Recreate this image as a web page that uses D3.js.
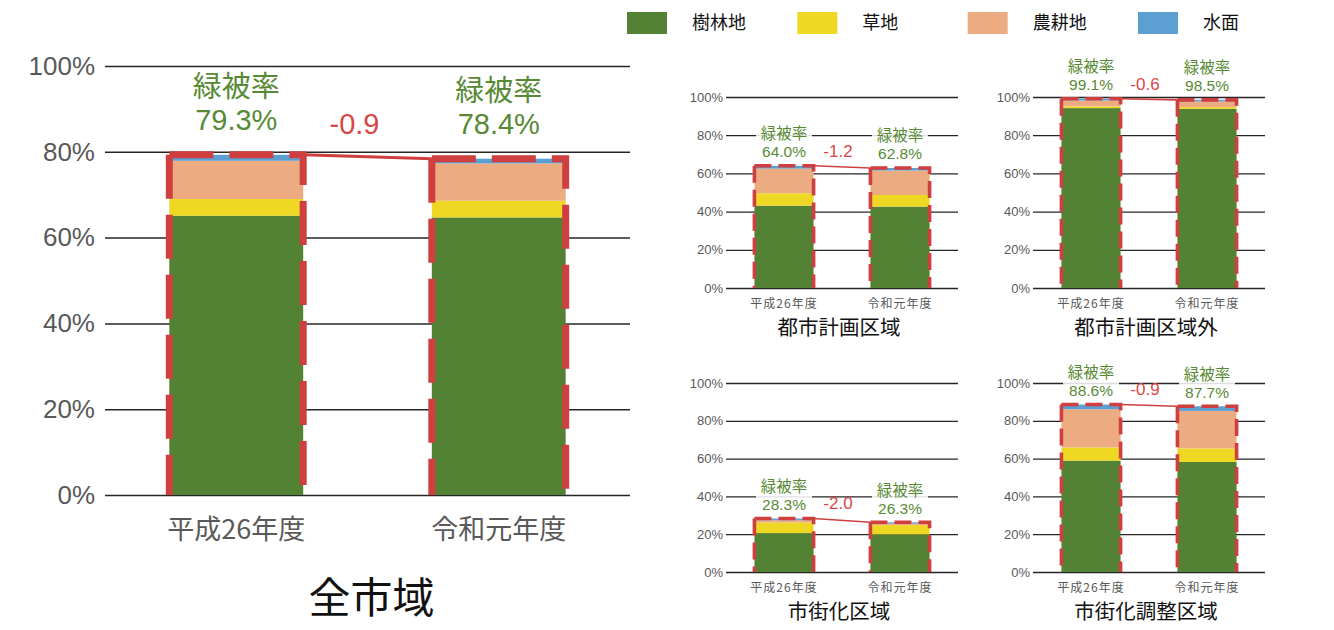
<!DOCTYPE html>
<html lang="ja">
<head>
<meta charset="utf-8" />
<title>緑被率の推移</title>
<style>
html, body {
  margin: 0;
  padding: 0;
  background: #fff;
}
svg text {
  font-family: "Liberation Sans", Arial, "Noto Sans CJK JP", sans-serif;
}
.jp {
  font-family: "Noto Sans CJK JP", sans-serif;
}
</style>
</head>
<body>
<svg id="chart" width="1334" height="630"></svg>

<script src="https://cdnjs.cloudflare.com/ajax/libs/d3/7.8.5/d3.min.js"></script>
<script>

// データ（図から読み取った値, %）
var categories = ["平成26年度", "令和元年度"];
var landTypes = ["樹林地", "草地", "農耕地", "水面"];
var regions = ["全市域", "都市計画区域", "都市計画区域外", "市街化区域", "市街化調整区域"];

var forest = [[65.1, 64.7], [43.1, 42.6], [94.2, 93.8], [20.6, 19.9], [58.9, 58.2]];
var grass  = [[3.9, 3.9],   [6.5, 6.1],   [0.9, 0.9],   [5.6, 4.9],   [7.0, 7.2]];
var farm   = [[8.9, 8.7],   [12.9, 12.8], [3.1, 3.0],   [1.2, 0.8],   [20.2, 19.8]];
var water  = [[1.4, 1.1],   [1.5, 1.3],   [0.9, 0.8],   [0.9, 0.7],   [2.5, 2.5]];

var coverRate = [[79.3, 78.4], [64.0, 62.8], [99.1, 98.5], [28.3, 26.3], [88.6, 87.7]];
var diffLabels = ["-0.9", "-1.2", "-0.6", "-2.0", "-0.9"];
var yTicks = [0, 20, 40, 60, 80, 100];

var colour = d3.scaleOrdinal()
  .domain(landTypes)
  .range(["#548235", "#eed824", "#ecab80", "#5b9fd3"]);

var RED = "#cf3f3f";
var GREEN_TXT = "#588a35";

var svg = d3.select("#chart");

// パネル配置
var panels = [
  {x0: 105, x1: 630, y0: 66, y1: 495, main: true},
  {x0: 726, x1: 958, y0: 97, y1: 288},
  {x0: 1033, x1: 1265, y0: 97, y1: 288},
  {x0: 726, x1: 958, y0: 383, y1: 572},
  {x0: 1033, x1: 1265, y0: 383, y1: 572}
];

panels.forEach(function(p, r) { drawPanel(p, r); });
drawLegend();

function drawPanel(p, r) {
  var m = !!p.main;
  var g = svg.append("g");

  var x = d3.scaleBand()
    .domain(categories)
    .range([p.x0, p.x1])
    .paddingInner(0.49)
    .paddingOuter(0.245);

  var y = d3.scaleLinear()
    .domain([0, 100])
    .range([p.y1, p.y0]);

  // 目盛線と軸ラベル
  var yAxis = d3.axisLeft(y)
    .tickValues(yTicks)
    .tickFormat(function(d) { return d + "%"; })
    .tickSize(-(p.x1 - p.x0))
    .tickPadding(m ? 10 : 3);

  var ag = g.append("g")
    .attr("transform", "translate(" + p.x0 + ",0)")
    .call(yAxis);
  ag.select(".domain").remove();
  ag.selectAll(".tick line")
    .attr("stroke", "#262626")
    .attr("stroke-width", m ? 1.5 : 1.3);
  ag.selectAll(".tick text")
    .attr("fill", "#595959")
    .style("font-size", m ? "26px" : "13px")
    .style("font-family", "'Liberation Sans', Arial, sans-serif");

  // 積み上げ棒
  var rows = categories.map(function(c, i) {
    return {cat: c, "樹林地": forest[r][i], "草地": grass[r][i], "農耕地": farm[r][i], "水面": water[r][i]};
  });
  var series = d3.stack().keys(landTypes)(rows);

  g.append("g").selectAll("g")
    .data(series)
    .join("g")
    .attr("fill", function(d) { return colour(d.key); })
    .selectAll("rect")
    .data(function(d) { return d; })
    .join("rect")
    .attr("x", function(d) { return x(d.data.cat); })
    .attr("width", x.bandwidth())
    .attr("y", function(d) { return y(d[1]); })
    .attr("height", function(d) { return y(d[0]) - y(d[1]); });

  // 緑被率の接続線
  var tops = coverRate[r];
  g.append("line")
    .attr("x1", x(categories[0]) + x.bandwidth())
    .attr("y1", y(tops[0]))
    .attr("x2", x(categories[1]))
    .attr("y2", y(tops[1]))
    .attr("stroke", RED)
    .attr("stroke-width", m ? 3 : 1.6);

  // 破線の枠（下辺なし、左上の角から描く）
  var outline = g.append("g")
    .attr("fill", "none")
    .attr("stroke", RED)
    .attr("stroke-width", m ? 7 : 3.6)
    .attr("stroke-dasharray", m ? "44 16" : "17 7");
  categories.forEach(function(d, i) {
    var x0 = x(d), x1 = x(d) + x.bandwidth();
    var yb = y(0), yt = y(tops[i]);
    outline.append("path")
      .attr("d", "M" + x0 + "," + yt + "V" + yb);
    outline.append("path")
      .attr("d", "M" + x0 + "," + yt + "H" + x1 + "V" + yb);
  });

  // ラベル
  var valOff = m ? 35 : 14;
  var lblOff = m ? 68 : 32;
  var fs = m ? 29 : 15.5;
  categories.forEach(function(c, i) {
    var cx = x(c) + x.bandwidth() / 2;
    var top = y(tops[i]);
    var lg = g.append("g");
    lg.append("rect")
      .attr("x", cx - (m ? 52 : 28))
      .attr("y", top - lblOff - fs * 0.65)
      .attr("width", m ? 104 : 56)
      .attr("height", lblOff - valOff + fs * 1.3)
      .attr("fill", "#fff")
      .attr("opacity", 0.85);
    lg.append("text")
      .attr("class", "jp")
      .attr("x", cx)
      .attr("y", top - lblOff)
      .attr("dy", "0.35em")
      .attr("text-anchor", "middle")
      .attr("fill", GREEN_TXT)
      .style("font-size", fs + "px")
      .text("緑被率");
    lg.append("text")
      .attr("x", cx)
      .attr("y", top - valOff)
      .attr("dy", "0.35em")
      .attr("text-anchor", "middle")
      .attr("fill", GREEN_TXT)
      .style("font-size", fs + "px")
      .text(coverRate[r][i].toFixed(1) + "%");
  });

  var c0 = x(categories[0]) + x.bandwidth() / 2;
  var c1 = x(categories[1]) + x.bandwidth() / 2;
  g.append("text")
    .attr("x", (c0 + c1) / 2 - (m ? 13 : 4))
    .attr("y", y(tops[0]) - (m ? 31 : 15))
    .attr("dy", "0.35em")
    .attr("text-anchor", "middle")
    .attr("fill", "#d9464a")
    .style("font-size", (m ? 29 : 17) + "px")
    .text(diffLabels[r]);

  // 横軸ラベル
  g.append("g").selectAll("text")
    .data(categories)
    .join("text")
    .attr("class", "jp")
    .attr("x", function(d) { return x(d) + x.bandwidth() / 2; })
    .attr("y", p.y1 + (m ? 35 : 16))
    .attr("dy", "0.35em")
    .attr("text-anchor", "middle")
    .attr("fill", "#595959")
    .style("font-size", (m ? 27 : 12) + "px")
    .style("letter-spacing", m ? "0px" : "1px")
    .text(function(d) { return d; });

  // 区域名
  g.append("text")
    .attr("class", "jp")
    .attr("x", (c0 + c1) / 2 + (m ? 4 : -3))
    .attr("y", p.y1 + (m ? 103 : 40))
    .attr("dy", "0.35em")
    .attr("text-anchor", "middle")
    .attr("fill", "#111")
    .style("font-size", (m ? 42 : 20.5) + "px")
    .text(regions[r]);
}

function drawLegend() {
  var lx = d3.scalePoint()
    .domain(landTypes)
    .range([627, 1138]);

  var lg = svg.append("g").selectAll("g")
    .data(landTypes)
    .join("g")
    .attr("transform", function(d) { return "translate(" + lx(d) + ",12)"; });

  lg.append("rect")
    .attr("width", 40)
    .attr("height", 22)
    .attr("fill", function(d) { return colour(d); });

  lg.append("text")
    .attr("class", "jp")
    .attr("x", 65)
    .attr("y", 11)
    .attr("dy", "0.35em")
    .attr("fill", "#111")
    .style("font-size", "18px")
    .text(function(d) { return d; });
}
</script>
</body>
</html>
